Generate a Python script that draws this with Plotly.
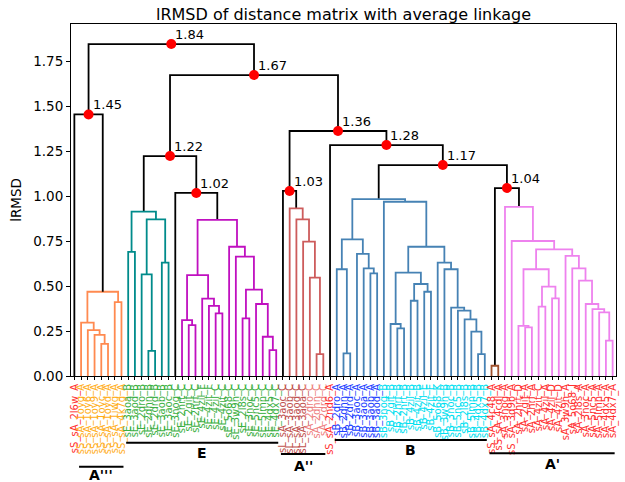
import plotly.graph_objects as go

# ---------------- data ----------------
leaf_labels = [
    "sS_sA_2l6w_A",
    "sS_sA_1oyg_A", "sS_sA_1oy6_A", "sS_sA_1oy9_A", "sS_sA_1oyc_A", "sS_sA_1oyd_A", "sS_sA_1iwg_A", "sS_sA_4k7g_A",
    "sE_3aoa_B", "sE_3aod_B", "sE_2dro_B", "sE_2dhn_B", "sE_2drd_B", "sE_3aob_B", "sE_3aoc_B",
    "sE_3nog_C", "sE_2hrt_C", "sE_2gif_C", "sE_2hrf_C", "sE_4zil_F", "sE_4zit_F", "sE_4zil_C", "sE_4zit_C",
    "sE_5o68_C", "sE_3w9h_C", "sE_2l8s_C", "sE_3noc_C", "sE_5nc5_C", "sE_5lmn_C", "sE_4dx5_C", "sE_4dx7_C",
    "sL_sA_3aoc_C", "sL_sA_3aob_C", "sL_sA_3aod_C", "sL_sA_3aoa_C", "sA_2dro_C", "sA_2dhn_C", "sA_2drd_C",
    "sS_sA_2nd6_A",
    "sB_2dro_A", "sB_2dhn_A", "sB_2drd_A", "sB_3aoc_A", "sB_3aoa_A", "sB_3aob_A", "sB_3aod_A",
    "sB_3nog_B", "sB_2gif_B", "sB_2hrf_B", "sB_2hrt_B", "sB_4zil_B", "sB_4zit_B", "sB_4zil_E", "sB_4zit_E",
    "sB_5o68_K", "sB_3w9h_B", "sB_3noc_B", "sB_5nc5_B", "sB_2l8s_B", "sB_5lmn_B", "sB_4dx5_B", "sB_4dx7_B",
    "sS_sA_4c48_A", "sS_sA_4cdl_A", "sA_3nog_A", "sS_sA_3d9b_A", "sA_2hrt_D", "sA_2gif_A", "sA_2hrf_A",
    "sA_4zit_C", "sA_4zil_A", "sA_4zil_D", "sA_4zit_D", "sA_3w9h_A", "sA_5o68_J", "sA_2l8s_A", "sA_3noc_A",
    "sA_5nc5_A", "sA_5lmn_A", "sA_4dx5_A", "sA_4dx7_A",
]

leaf_color_keys = (
    ["red"]
    + ["orange"] * 7
    + ["green"] * 23
    + ["rose_dark"] * 4 + ["rose_light"] * 3
    + ["red"]
    + ["blue"] * 7
    + ["cyan"] * 16
    + ["red"] * 19
)

label_colors = {
    "red": "#ff3030", "orange": "#ffae1a", "green": "#3cb043",
    "rose_dark": "#c0504d", "rose_light": "#ee8080", "blue": "#2040ff", "cyan": "#00e0f0",
}

# tree: leaves are leaf indices, nodes are [left, right, height]
orange_cl = [[1, [2, [3, [4, 5, 0.178], 0.228], 0.255], 0.296], [6, 7, 0.41], 0.468]
teal_cl = [[8, 9, 0.69], [[10, [11, 12, 0.14], 0.565], [13, 14, 0.63], 0.87], 0.913]
magenta_cl = [
    [[16, [17, 18, 0.283], 0.31], [19, [20, [21, 22, 0.348], 0.39], 0.43], 0.56],
    [23, [24, [[25, 26, 0.32], [27, [28, [29, 30, 0.144], 0.218], 0.40], 0.48], 0.663], 0.718],
    0.867,
]
rose_cl = [32, [33, [34, [35, [36, 37, 0.122], 0.546], 0.746], 0.87], 0.931]
blue_cl = [
    [[39, [40, 41, 0.126], 0.593], [42, [43, [44, 45, 0.57], 0.598], 0.678], 0.759],
    [46, [[[47, [48, 49, 0.265], 0.289], [[50, 51, 0.418], [52, 53, 0.468], 0.511], 0.574],
          [54, [55, [56, [57, [58, [59, [60, 61, 0.122], 0.246], 0.315], 0.363], 0.38], 0.593], 0.63],
          0.718], 0.968],
    0.983,
]
brown_cl = [62, 63, 0.057]
violet_cl = [64, [65, [[[66, [67, 68, 0.27], 0.278], [[69, 70, 0.385], [71, 72, 0.431], 0.496], 0.593],
                      [73, [74, [75, [76, [77, [78, [79, 80, 0.196], 0.354], 0.372], 0.40], 0.53], 0.598], 0.667],
                      0.704], 0.75], 0.94]

n145 = [0, orange_cl, 1.453]
n102 = [15, magenta_cl, 1.017]
n122 = [teal_cl, n102, 1.222]
n103 = [31, rose_cl, 1.028]
n104 = [brown_cl, violet_cl, 1.044]
n117 = [blue_cl, n104, 1.172]
n128 = [38, n117, 1.283]
n136 = [n103, n128, 1.361]
n167 = [n122, n136, 1.672]
root = [n145, n167, 1.844]

cluster_colors = [
    (orange_cl, "#ff8a50"), (teal_cl, "#008b8b"), (magenta_cl, "#c010c0"),
    (rose_cl, "#cd5c5c"), (blue_cl, "#4682b4"), (brown_cl, "#a0522d"), (violet_cl, "#ee82ee"),
]

group_names = ["A'''", "E", "A''", "B", "A'"]
group_first_leaf = [1, 8, 31, 39, 62]
group_last_leaf = [7, 30, 37, 61, 80]

# ---------------- dendrogram geometry ----------------
segments = {}
top_nodes = []


def leaf_x(i):
    return 5 + 10 * i


def walk(node, color):
    if isinstance(node, int):
        return leaf_x(node), 0.0
    for sub, c in cluster_colors:
        if node is sub:
            color = c
    xl, hl = walk(node[0], color)
    xr, hr = walk(node[1], color)
    h = node[2]
    xs, ys = segments.setdefault(color, ([], []))
    xs.extend([xl, xl, xr, xr, None])
    ys.extend([hl, h, h, hr, None])
    xc = (xl + xr) / 2
    if color == "black":
        top_nodes.append((xc, h))
    return xc, h


walk(root, "black")

fig = go.Figure()
for color, (xs, ys) in segments.items():
    fig.add_trace(go.Scatter(x=xs, y=ys, mode="lines", line=dict(color=color, width=1.8),
                             hoverinfo="skip", showlegend=False))

fig.add_trace(go.Scatter(x=[p[0] for p in top_nodes], y=[p[1] for p in top_nodes], mode="markers",
                         marker=dict(color="red", size=10), showlegend=False, hoverinfo="skip"))

annotations = []
for xc, h in top_nodes:
    annotations.append(dict(x=xc, y=h, xref="x", yref="y", text=f"{h:.2f}", showarrow=False,
                            xanchor="left", yanchor="bottom", xshift=2, yshift=0,
                            font=dict(size=13, color="black", family="DejaVu Sans")))

# group brackets under the labels
line_y_px = [466.7, 442.7, 454.0, 440.0, 453.3]
text_y_px = [474.5, 453.3, 466.0, 450.0, 464.0]
plot_top, plot_bottom = 24, 376
shapes = []
for name, a, b, ly, ty in zip(group_names, group_first_leaf, group_last_leaf, line_y_px, text_y_px):
    py = (plot_bottom - ly) / (plot_bottom - plot_top)
    ty_p = (plot_bottom - ty) / (plot_bottom - plot_top)
    shapes.append(dict(type="line", xref="x", yref="paper", x0=leaf_x(a) - 3, x1=leaf_x(b) + 3,
                       y0=py, y1=py, line=dict(color="black", width=2)))
    annotations.append(dict(x=(leaf_x(a) + leaf_x(b)) / 2, y=ty_p, xref="x", yref="paper", text=f"<b>{name}</b>",
                            showarrow=False, xanchor="center", yanchor="middle",
                            font=dict(size=14, color="black", family="DejaVu Sans")))

ticktext = [f'<span style="color:{label_colors[k]}">{t}</span>' for t, k in zip(leaf_labels, leaf_color_keys)]

fig.update_layout(
    width=625, height=482,
    margin=dict(l=71, r=9, t=24, b=106),
    paper_bgcolor="white", plot_bgcolor="white",
    font=dict(family="DejaVu Sans", color="black"),
    title=dict(text="lRMSD of distance matrix with average linkage", x=(71 + 616) / 2 / 625, xanchor="center",
               y=1 - 14 / 482, yanchor="middle", font=dict(size=16, color="black")),
    shapes=shapes,
    annotations=annotations,
    xaxis=dict(range=[0, 10 * len(leaf_labels)], tickmode="array",
               tickvals=[leaf_x(i) for i in range(len(leaf_labels))], ticktext=ticktext,
               tickangle=-90, tickfont=dict(size=10), ticks="outside", ticklen=3, tickcolor="black",
               showline=True, linecolor="black", linewidth=1, mirror=True, showgrid=False,
               zeroline=False, automargin=False),
    yaxis=dict(range=[0, (plot_bottom - plot_top) / 180], tickmode="array",
               tickvals=[0, 0.25, 0.5, 0.75, 1.0, 1.25, 1.5, 1.75],
               ticktext=["0.00", "0.25", "0.50", "0.75", "1.00", "1.25", "1.50", "1.75"],
               tickfont=dict(size=13.5), ticks="outside", ticklen=4, tickcolor="black",
               showline=True, linecolor="black", linewidth=1, mirror=True, showgrid=False,
               zeroline=False, automargin=False,
               title=dict(text="lRMSD", font=dict(size=13.5), standoff=8)),
)

fig.write_html("out.html", config={"displayModeBar": False},
               post_script="document.body.style.margin='0px';")
